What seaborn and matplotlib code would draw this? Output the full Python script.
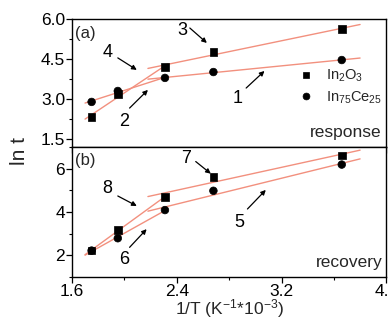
import numpy as np
import pandas as pd
import matplotlib
matplotlib.use("Agg")
import matplotlib.pyplot as plt
import seaborn as sns
from matplotlib.ticker import MultipleLocator

sns.set_theme(style="ticks")
plt.rcParams['font.family'] = ['Liberation Sans', 'DejaVu Sans']
plt.rcParams['mathtext.fontset'] = 'custom'
plt.rcParams['mathtext.rm'] = 'Liberation Sans'
plt.rcParams['mathtext.it'] = 'Liberation Sans'

# ---- data ----
inv_T = [1.75, 1.95, 2.31, 2.68, 3.66]
resp_In2O3 = [2.33, 3.19, 4.20, 4.76, 5.62]
resp_InCe = [2.89, 3.30, 3.79, 4.01, 4.46]
rec_In2O3 = [2.23, 3.16, 4.70, 5.63, 6.60]
rec_InCe = [2.22, 2.79, 4.09, 4.98, 6.19]
series_labels = [r"In$_2$O$_3$", r"In$_{75}$Ce$_{25}$"]
x_ticks = [1.6, 2.4, 3.2, 4.0]

line_color = '#f2907e'

fig = plt.figure(figsize=(3.89, 3.21), dpi=100)
ax1 = fig.add_axes([0.185, 0.542, 0.808, 0.399])
ax2 = fig.add_axes([0.185, 0.137, 0.808, 0.405])

def panel(ax, y_a, y_b, legend):
    df = pd.DataFrame({
        'x': inv_T * 2,
        'y': list(y_a) + list(y_b),
        's': [series_labels[0]] * len(inv_T) + [series_labels[1]] * len(inv_T),
    })
    x = np.array(inv_T)
    for ys in (y_a, y_b):
        ys = np.array(ys)
        p = np.polyfit(x[:3], ys[:3], 1)
        xx = np.array([1.70, 2.33])
        ax.plot(xx, np.polyval(p, xx), color=line_color, lw=1.0, zorder=1)
        p = np.polyfit(x[2:], ys[2:], 1)
        xx = np.array([2.18, 3.80])
        ax.plot(xx, np.polyval(p, xx), color=line_color, lw=1.0, zorder=1)
    sns.scatterplot(data=df, x='x', y='y', style='s', hue='s',
                    palette=['black', 'black'],
                    markers={series_labels[0]: 's', series_labels[1]: 'o'},
                    s=30, edgecolor='black', linewidth=0.5, ax=ax,
                    legend=legend, zorder=3)
    ax.set_xlim(1.6, 4.0)
    ax.set_xlabel('')
    ax.set_ylabel('')
    ax.xaxis.set_major_locator(plt.FixedLocator(x_ticks))
    ax.xaxis.set_minor_locator(MultipleLocator(0.4))
    for s in ax.spines.values():
        s.set_color('black')
        s.set_linewidth(1.0)
    ax.tick_params(which='major', length=4, width=0.9, labelsize=12.5, colors='black', pad=1)
    ax.tick_params(which='minor', length=2.5, width=0.8, colors='black')

panel(ax1, resp_In2O3, resp_InCe, True)
panel(ax2, rec_In2O3, rec_InCe, False)

ax1.set_ylim(1.2, 6.0)
ax1.yaxis.set_major_locator(plt.FixedLocator([1.5, 3.0, 4.5, 6.0]))
ax1.yaxis.set_minor_locator(MultipleLocator(0.75))
ax1.tick_params(axis='x', labelbottom=False)
ax1.yaxis.set_major_formatter(plt.FormatStrFormatter('%.1f'))

ax2.set_ylim(1.0, 7.0)
ax2.yaxis.set_major_locator(plt.FixedLocator([2, 4, 6]))
ax2.yaxis.set_minor_locator(MultipleLocator(1))
ax2.set_xlabel(r"1/T (K$^{-1}$*10$^{-3}$)", fontsize=12.5, labelpad=-1)

leg = ax1.legend(loc='center left', bbox_to_anchor=(0.72, 0.47), frameon=False,
                 fontsize=10.5, handlelength=1.0, handletextpad=0.9,
                 labelspacing=0.35, markerscale=0.9, borderaxespad=0,
                 borderpad=0)

fig.text(0.05, 0.53, 'ln t', rotation=90, fontsize=15, ha='center', va='center')

tkw = dict(fontsize=13, ha='center', va='center', color='black')
akw = dict(arrowstyle='-|>', color='black', lw=0.9, mutation_scale=7,
           shrinkA=0, shrinkB=0)

def ann(ax, label, txy, a0, a1):
    ax.text(txy[0], txy[1], label, **tkw)
    ax.annotate('', xy=a1, xytext=a0, arrowprops=akw)

ann(ax1, '3', (2.44, 5.55), (2.50, 5.66), (2.63, 5.10))
ann(ax1, '4', (1.87, 4.73), (1.95, 4.54), (2.095, 4.09))
ann(ax1, '2', (2.00, 2.14), (2.04, 2.66), (2.18, 3.34))
ann(ax1, '1', (2.865, 3.00), (2.93, 3.41), (3.07, 4.05))
ax1.text(1.62, 5.47, '(a)', fontsize=12, ha='left', va='center')
ax1.text(3.96, 1.76, 'response', fontsize=12.5, ha='right', va='center')

ann(ax2, '7', (2.47, 6.47), (2.545, 6.33), (2.66, 5.77))
ann(ax2, '8', (1.87, 5.07), (1.95, 4.74), (2.095, 4.28))
ann(ax2, '6', (2.00, 1.81), (2.04, 2.37), (2.17, 3.21))
ann(ax2, '5', (2.88, 3.53), (2.94, 4.14), (3.08, 5.02))
ax2.text(1.62, 6.37, '(b)', fontsize=12, ha='left', va='center')
ax2.text(3.97, 1.67, 'recovery', fontsize=12.5, ha='right', va='center')

fig.savefig('out.png', dpi=100)
